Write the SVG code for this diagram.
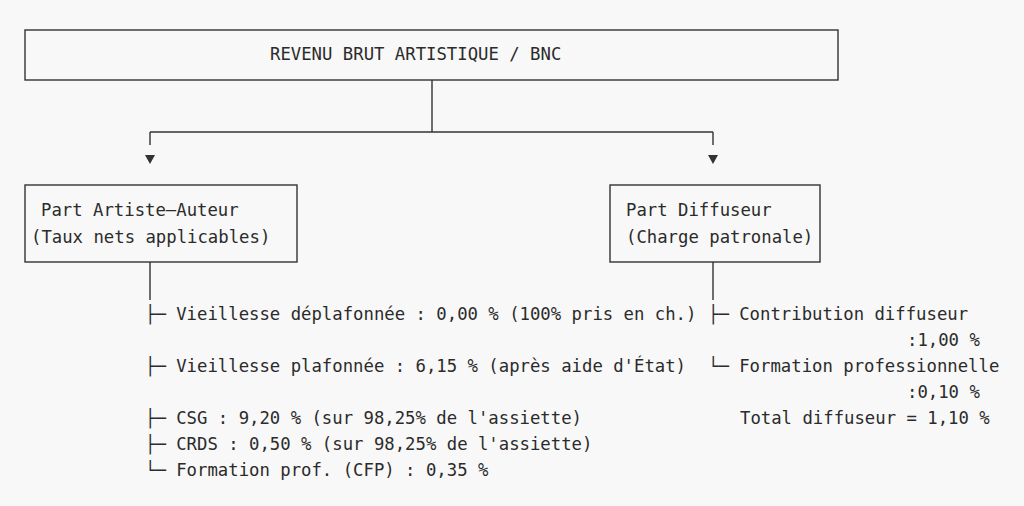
<svg xmlns="http://www.w3.org/2000/svg" width="1024" height="506" viewBox="0 0 1024 506">
<style>
text{font-family:"DejaVu Sans Mono","Liberation Mono",monospace;font-size:17.3px;fill:#2b2b2b;white-space:pre}
.b{fill:none;stroke:#333;stroke-width:1.4}
</style>
<rect width="1024" height="506" fill="#f8f8f8"/>
<g id="revenu"><rect class="b" x="25" y="30" width="813" height="50"/><text x="270" y="60">REVENU BRUT ARTISTIQUE / BNC</text></g>
<g id="connectors">
<path class="b" d="M432 80V132M150 132H713M150 132V145M713 132V145M150 262V300M713 262V300"/>
<path d="M145 155H155L150 164Z M708 155H718L713 164Z" fill="#333"/>
</g>
<g id="artiste"><rect class="b" x="25" y="185" width="272" height="77"/>
<text x="41" y="216">Part Artiste–Auteur</text><text x="31" y="243">(Taux nets applicables)</text></g>
<g id="diffuseur"><rect class="b" x="610" y="185" width="210" height="77"/>
<text x="626" y="216">Part Diffuseur</text><text x="626" y="243">(Charge patronale)</text></g>
<g id="artiste-taux">
<text x="145" y="320">├─ Vieillesse déplafonnée : 0,00 % (100% pris en ch.)</text>
<text x="145" y="372">├─ Vieillesse plafonnée : 6,15 % (après aide d'État)</text>
<text x="145" y="424">├─ CSG : 9,20 % (sur 98,25% de l'assiette)</text>
<text x="145" y="450">├─ CRDS : 0,50 % (sur 98,25% de l'assiette)</text>
<text x="145" y="476">└─ Formation prof. (CFP) : 0,35 %</text>
</g>
<g id="diffuseur-taux">
<text x="708" y="320">├─ Contribution diffuseur</text>
<text x="907" y="346">:1,00 %</text>
<text x="708" y="372">└─ Formation professionnelle</text>
<text x="907" y="398">:0,10 %</text>
<text x="740" y="424">Total diffuseur = 1,10 %</text>
</g>
</svg>
